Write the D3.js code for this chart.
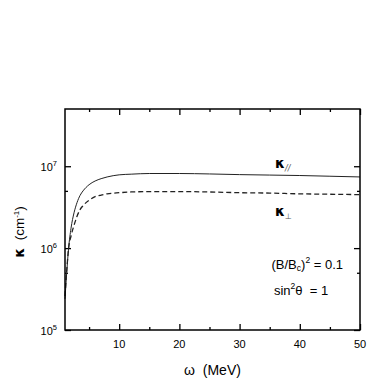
<!DOCTYPE html>
<html>
<head>
<meta charset="utf-8">
<script src="https://cdn.jsdelivr.net/npm/d3@7"></script>
<style>
  body { margin: 0; background: #fff; }
  svg { display: block; font-family: 'Liberation Sans', Arial, sans-serif; }
</style>
</head>
<body>
<svg id="chart" width="382" height="382"></svg>
<script>
// photon energy (MeV)
const omega = [1, 1.3, 1.6, 2, 2.5, 3, 3.5, 4, 5, 6, 7, 8, 10, 12, 15, 20, 25, 30, 35, 40, 45, 50]
// kappa parallel (cm^-1), solid
const kappaPar = [2.4e5, 5.2e5, 1.0e6, 1.75e6, 2.7e6, 3.6e6, 4.4e6, 5.0e6, 5.95e6, 6.6e6, 7.05e6, 7.4e6,
  7.85e6, 8.0e6, 8.15e6, 8.15e6, 8.05e6, 7.9e6, 7.8e6, 7.7e6, 7.55e6, 7.4e6]
// kappa perpendicular (cm^-1), dashed
const kappaPerp = [2.6e5, 5.5e5, 1.0e6, 1.4e6, 1.9e6, 2.45e6, 2.95e6, 3.3e6, 3.85e6, 4.25e6, 4.45e6, 4.6e6,
  4.75e6, 4.85e6, 4.9e6, 4.9e6, 4.85e6, 4.75e6, 4.7e6, 4.6e6, 4.55e6, 4.5e6]

const xMajor = [10, 20, 30, 40, 50]
const xMinor = [5, 15, 25, 35, 45]
const yMajor = [1e5, 1e6, 1e7]
const yMinor = [5e5, 5e6]

const svg = d3.select('#chart')
const m = { left: 65, top: 109, right: 22, bottom: 52 }
const width = 382 - m.left - m.right
const height = 382 - m.top - m.bottom

const g = svg.append('g').attr('transform', `translate(${m.left}, ${m.top})`)

const x = d3.scaleLinear().domain([1, 50]).range([0, width])
const y = d3.scaleLog().domain([1e5, 5e7]).range([height, 0])

// ticks, all pointing inward
function tickAxis(axis, scale, values, size, tr) {
  const a = g.append('g')
    .attr('transform', tr)
    .call(axis(scale).tickValues(values).tickSize(size).tickFormat(''))
  a.select('.domain').remove()
  a.selectAll('line').attr('stroke', '#000').attr('stroke-width', 1.3)
  return a
}
tickAxis(d3.axisBottom, x, xMajor, -6, `translate(0, ${height})`)
tickAxis(d3.axisBottom, x, xMinor, -3, `translate(0, ${height})`)
tickAxis(d3.axisTop, x, xMajor, -6, 'translate(0, 0)')
tickAxis(d3.axisTop, x, xMinor, -3, 'translate(0, 0)')
tickAxis(d3.axisLeft, y, yMajor, -6, 'translate(0, 0)')
tickAxis(d3.axisLeft, y, yMinor, -3, 'translate(0, 0)')
tickAxis(d3.axisRight, y, yMajor, -6, `translate(${width}, 0)`)
tickAxis(d3.axisRight, y, yMinor, -3, `translate(${width}, 0)`)

// tick labels
g.selectAll('.xlab')
  .data(xMajor)
  .enter()
  .append('text')
  .attr('class', 'xlab')
  .attr('x', (d) => x(d))
  .attr('y', height + 18)
  .attr('text-anchor', 'middle')
  .attr('font-size', 11)
  .text((d) => d)

const ylab = g.selectAll('.ylab')
  .data(yMajor)
  .enter()
  .append('text')
  .attr('class', 'ylab')
  .attr('x', -8)
  .attr('y', (d) => y(d) + 5)
  .attr('text-anchor', 'end')
  .attr('font-size', 11)
ylab.append('tspan').text('10')
ylab.append('tspan')
  .attr('dy', -5)
  .attr('font-size', 7.5)
  .text((d) => Math.round(Math.log10(d)))

// curves
const line = (vals) => d3.line()
  .x((d, i) => x(omega[i]))
  .y((d) => y(d))
  .curve(d3.curveMonotoneX)(vals)

g.append('path')
  .attr('d', line(kappaPar))
  .attr('fill', 'none')
  .attr('stroke', '#222')
  .attr('stroke-width', 1)

g.append('path')
  .attr('d', line(kappaPerp))
  .attr('fill', 'none')
  .attr('stroke', '#222')
  .attr('stroke-width', 1.3)
  .attr('stroke-dasharray', '5,3')

// frame
g.append('rect')
  .attr('width', width)
  .attr('height', height)
  .attr('fill', 'none')
  .attr('stroke', '#000')
  .attr('stroke-width', 1.5)

// curve labels
const kFont = "'DejaVu Sans', sans-serif"
const kPar = g.append('text')
  .attr('x', x(35.9))
  .attr('y', y(9.4e6))
  .attr('font-family', kFont)
  .attr('font-weight', 'bold')
  .attr('font-size', 14)
kPar.append('tspan').text('κ')
kPar.append('tspan').attr('dy', 3).attr('font-size', 8).attr('font-weight', 'normal')
  .attr('font-style', 'italic').attr('fill', '#555').text('//')

const kPerp = g.append('text')
  .attr('x', x(35.9))
  .attr('y', y(2.5e6))
  .attr('font-family', kFont)
  .attr('font-weight', 'bold')
  .attr('font-size', 14)
kPerp.append('tspan').text('κ')
kPerp.append('tspan').attr('dy', 3).attr('font-size', 8).attr('font-weight', 'normal')
  .attr('fill', '#555').text('⊥')

// parameter annotations
const p1 = g.append('text')
  .attr('x', x(35.3))
  .attr('y', y(5.5e5))
  .attr('font-size', 13)
p1.append('tspan').text('(B/B')
p1.append('tspan').attr('dy', 2).attr('font-size', 8.5).text('c')
p1.append('tspan').attr('dy', -2).text(')')
p1.append('tspan').attr('dy', -6).attr('font-size', 8.5).text('2')
p1.append('tspan').attr('dy', 6).text(' = 0.1')

const p2 = g.append('text')
  .attr('x', x(35.7))
  .attr('y', y(2.65e5))
  .attr('font-size', 13)
p2.append('tspan').text('sin')
p2.append('tspan').attr('dy', -6).attr('font-size', 8.5).text('2')
p2.append('tspan').attr('dy', 6).text('θ  = 1')
  .attr('xml:space', 'preserve')

// axis titles
svg.append('text')
  .attr('x', m.left + width / 2)
  .attr('y', 375)
  .attr('text-anchor', 'middle')
  .attr('font-size', 14)
  .attr('xml:space', 'preserve')
  .text('ω  (MeV)')

const yt = svg.append('text')
  .attr('transform', 'translate(24, 232) rotate(-90)')
  .attr('text-anchor', 'middle')
  .attr('font-size', 13.5)
  .attr('xml:space', 'preserve')
yt.append('tspan').attr('font-family', kFont).attr('font-weight', 'bold').attr('font-size', 14).text('κ')
yt.append('tspan').text('  (cm')
yt.append('tspan').attr('dy', -5).attr('font-size', 8).text('-1')
yt.append('tspan').attr('dy', 5).text(')')
</script>
</body>
</html>
